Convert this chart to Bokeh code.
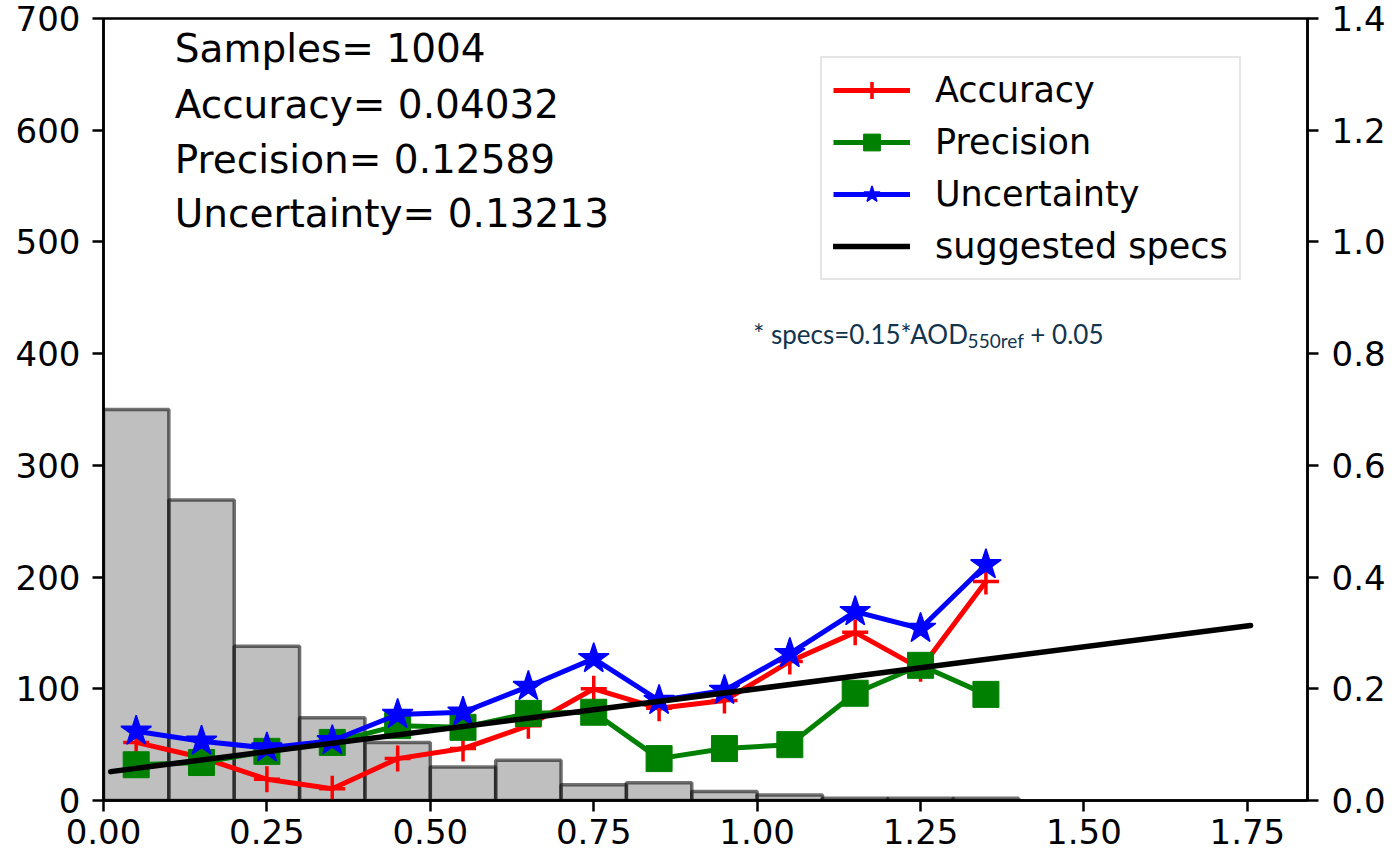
from bokeh.plotting import figure
from bokeh.models import (Range1d, LinearAxis, FixedTicker, Legend, LegendItem,
                          Label)
from bokeh.embed import file_html
from bokeh.resources import INLINE

# ---------------- data ----------------
bin_edges = [0.0, 0.1, 0.2, 0.3, 0.4, 0.5, 0.6, 0.7, 0.8, 0.9, 1.0, 1.1, 1.2, 1.3, 1.4]
counts = [350, 269, 138, 74, 52, 30, 36, 14, 16, 8, 5, 2, 2, 2]

bin_centers = [0.05, 0.15, 0.25, 0.35, 0.45, 0.55, 0.65, 0.75, 0.85, 0.95, 1.05, 1.15, 1.25, 1.35]
accuracy = [0.104, 0.077, 0.038, 0.021, 0.075, 0.093, 0.134, 0.200, 0.165, 0.179, 0.249, 0.301, 0.236, 0.392]
precision = [0.064, 0.068, 0.088, 0.104, 0.134, 0.131, 0.156, 0.158, 0.075, 0.093, 0.100, 0.192, 0.242, 0.190]
uncertainty = [0.124, 0.106, 0.094, 0.107, 0.154, 0.158, 0.204, 0.254, 0.179, 0.197, 0.263, 0.338, 0.308, 0.422]

spec_x = [0.011, 1.755]
spec_y = [0.0517, 0.3133]

x_ticks = [0.0, 0.25, 0.5, 0.75, 1.0, 1.25, 1.5, 1.75]
x_tick_labels = ["0.00", "0.25", "0.50", "0.75", "1.00", "1.25", "1.50", "1.75"]
left_ticks = [0, 100, 200, 300, 400, 500, 600, 700]
right_ticks = [0.0, 0.2, 0.4, 0.6, 0.8, 1.0, 1.2, 1.4]
right_tick_labels = ["0.0", "0.2", "0.4", "0.6", "0.8", "1.0", "1.2", "1.4"]

stats_text = ["Samples= 1004", "Accuracy= 0.04032", "Precision= 0.12589", "Uncertainty= 0.13213"]
legend_labels = ["Accuracy", "Precision", "Uncertainty", "suggested specs"]

# ---------------- figure ----------------
p = figure(title=None, frame_width=1204, frame_height=782,
           x_range=Range1d(0, 1.842), y_range=Range1d(0, 700),
           output_backend="svg", toolbar_location=None,
           min_border_left=103, min_border_top=18, min_border_right=86,
           min_border_bottom=59, background_fill_color="white",
           border_fill_color="white")
p.extra_y_ranges = {"right": Range1d(0, 1.4)}
p.xgrid.grid_line_color = None
p.ygrid.grid_line_color = None
p.outline_line_color = "black"
p.outline_line_width = 2.5
p.outline_line_alpha = 1

right_axis = LinearAxis(y_range_name="right")
p.add_layout(right_axis, "right")

FONT = "DejaVu Sans"
for ax in [p.xaxis[0], p.yaxis[0], right_axis]:
    ax.axis_line_width = 2.5
    ax.axis_line_color = "black"
    ax.major_tick_line_width = 2.5
    ax.major_tick_line_color = "black"
    ax.major_tick_out = 11
    ax.major_tick_in = 0
    ax.minor_tick_out = 0
    ax.minor_tick_in = 0
    ax.major_label_text_font = FONT
    ax.major_label_text_font_size = "34px"
    ax.major_label_text_color = "black"

p.xaxis[0].ticker = FixedTicker(ticks=x_ticks)
p.xaxis[0].major_label_overrides = dict(zip(x_ticks, x_tick_labels))
p.xaxis[0].major_label_standoff = 7
p.yaxis[0].ticker = FixedTicker(ticks=left_ticks)
p.yaxis[0].major_label_standoff = 12
right_axis.ticker = FixedTicker(ticks=right_ticks)
right_axis.major_label_overrides = dict(zip(right_ticks, right_tick_labels))
right_axis.major_label_standoff = 13

# histogram
p.quad(left=bin_edges[:-1], right=bin_edges[1:], top=counts, bottom=0,
       fill_color="gray", fill_alpha=0.5, line_color="black", line_alpha=0.55,
       line_width=3.5)

# series
acc_l = p.line(bin_centers, accuracy, y_range_name="right", line_color="red", line_width=5)
acc_m = p.scatter(bin_centers, accuracy, y_range_name="right", marker="cross", size=26,
                  line_color="red", line_width=3.5)
pre_l = p.line(bin_centers, precision, y_range_name="right", line_color="#008000", line_width=5)
pre_m = p.scatter(bin_centers, precision, y_range_name="right", marker="square", size=26,
                  fill_color="#008000", line_color="#008000", line_width=1)
unc_l = p.line(bin_centers, uncertainty, y_range_name="right", line_color="blue", line_width=5)
unc_m = p.scatter(bin_centers, uncertainty, y_range_name="right", marker="star", size=32,
                  fill_color="blue", line_color="blue", line_width=1.5)
spec_l = p.line(spec_x, spec_y, y_range_name="right", line_color="black", line_width=5.5,
                line_cap="round")

legend = Legend(items=[
    LegendItem(label=legend_labels[0], renderers=[acc_l, acc_m]),
    LegendItem(label=legend_labels[1], renderers=[pre_l, pre_m]),
    LegendItem(label=legend_labels[2], renderers=[unc_l, unc_m]),
    LegendItem(label=legend_labels[3], renderers=[spec_l]),
], location=(717, 520))
legend.margin = 0
legend.padding = 11
legend.spacing = 10
legend.glyph_width = 77
legend.glyph_height = 42
legend.label_height = 42
legend.label_standoff = 25
legend.label_text_font = FONT
legend.label_text_font_size = "35px"
legend.label_text_color = "black"
legend.border_line_color = "#cccccc"
legend.border_line_width = 2.5
legend.background_fill_color = "white"
legend.background_fill_alpha = 1
p.add_layout(legend, "center")

# stats text block
stat_baselines = [673.3, 623.4, 574.2, 525.5]
for t, yb in zip(stats_text, stat_baselines):
    p.add_layout(Label(x=0.109, y=yb, text=t, text_font=FONT, text_font_size="39px",
                       text_color="black", text_baseline="alphabetic", text_align="left"))

# specs note
note_color = "#12344d"
p.add_layout(Label(x=0.994, y=418, text="* specs=0.15*AOD", text_font="Lato",
                   text_font_size="26px", text_color=note_color,
                   text_baseline="alphabetic", text_align="left"))
p.add_layout(Label(x=1.322, y=411.5, text="550ref", text_font="Lato",
                   text_font_size="19px", text_color=note_color,
                   text_baseline="alphabetic", text_align="left"))
p.add_layout(Label(x=1.418, y=418, text="+ 0.05", text_font="Lato",
                   text_font_size="26px", text_color=note_color,
                   text_baseline="alphabetic", text_align="left"))

open("out.html", "w").write(file_html(p, INLINE))
